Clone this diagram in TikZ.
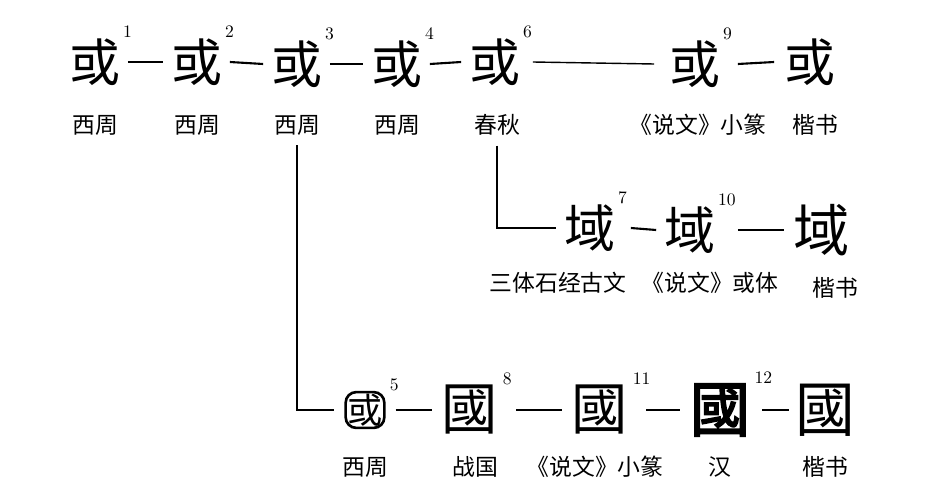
\documentclass[tikz,border=0pt]{standalone}
\usepackage{fontspec}
\usetikzlibrary{calc}
\newfontfamily\cjk{Noto Sans CJK SC}
\newfontfamily\cjkb{Noto Sans CJK SC}[FakeBold=3]
\begin{document}
\begin{tikzpicture}[x=0.02cm,y=-0.02cm,
  g/.style={font=\cjk\fontsize{29}{29}\selectfont,inner sep=0pt},
  lab/.style={font=\cjk\fontsize{13}{13}\selectfont,inner sep=1pt},
  sup/.style={font=\fontsize{10}{10}\selectfont,inner sep=0pt,anchor=south west},
  ln/.style={line width=1.2pt},
  con/.style={line width=0.8pt}]
\useasboundingbox (0,0) rectangle (941,500);
% row 1
\node[g] (a1) at (95,62) {或};
\node[g] (a2) at (197,62) {或};
\node[g] (a3) at (297,64) {或};
\node[g] (a4) at (397,64) {或};
\node[g] (a6) at (495,62) {或};
\node[g] (a9) at (695,64) {或};
\node[g] (k1) at (810,62) {或};
\foreach \n in {1,2,3,4,6,9}
  \node[sup] (s\n) at ($(a\n.north east)+(2,0)$) {\n};
\foreach \n/\x/\t in {1/95/西周,2/197/西周,3/297/西周,4/397/西周,6/497/春秋,9/698/《说文》小篆,k/815/楷书}
  \node[lab] (l\n) at (\x,125) {\t};
\draw[ln] ($(a1.east)+(7,0)$) -- ($(a2.west)+(-8,0)$);
\draw[ln] ($(a2.east)+(7,0)$) -- ($(a3.west)+(-8,0)$);
\draw[ln] ($(a3.east)+(7,0)$) -- ($(a4.west)+(-8,0)$);
\draw[ln] ($(a4.east)+(7,0)$) -- ($(a6.west)+(-8,0)$);
\draw[con] ($(a6.east)+(12,0)$) -- ($(a9.west)+(-15,0)$);
\draw[ln] ($(a9.east)+(17,0)$) -- ($(k1.west)+(-10,0)$);
% row 2
\node[g] (b7) at (590,228) {域};
\node[g] (b10) at (690,230) {域};
\node[g,font=\cjk\fontsize{32}{32}\selectfont] (k2) at (822,230) {域};
\node[sup] (s7) at ($(b7.north east)+(2,0)$) {7};
\node[sup] (s10) at ($(b10.north east)+(2,0)$) {10};
\node[lab] (m7) at (558,283) {三体石经古文};
\node[lab] (m10) at (710,283) {《说文》或体};
\node[lab] (mk) at (835,288) {楷书};
\draw[ln] ($(b7.east)+(15,0)$) -- ($(b10.west)+(-8,0)$);
\draw[ln] ($(b10.east)+(22,0)$) -- ($(k2.west)+(-10,0)$);
\coordinate (c1) at ($(l6.south)+(0,8)$);
\draw[con] (c1) -- (c1 |- b7) -- ($(b7.west)+(-8,0)$);
% row 3
\node[g,draw,rounded corners=6pt,line width=1.5pt,inner sep=1pt,font=\cjk\fontsize{20}{20}\selectfont] (c5) at (365,410) {或};
\node[g,font=\cjk\fontsize{32}{32}\selectfont] (c8) at (470,410) {國};
\node[g,font=\cjk\fontsize{32}{32}\selectfont] (c11) at (600,410) {國};
\node[g,font=\cjkb\fontsize{34}{34}\selectfont] (c12) at (720,410) {國};
\node[g,font=\cjk\fontsize{34}{34}\selectfont] (k3) at (825,410) {國};
\foreach \n in {5,8,11,12}
  \node[sup] (t\n) at ($(c\n.north east)+(4,0)$) {\n};
\foreach \n/\x/\t in {5/365/西周,8/475/战国,11/595/《说文》小篆,12/720/汉,k/825/楷书}
  \node[lab] (n\n) at (\x,467) {\t};
\draw[ln] ($(c5.east)+(10,0)$) -- ($(c8.west)+(-10,0)$);
\draw[ln] ($(c8.east)+(18,0)$) -- ($(c11.west)+(-10,0)$);
\draw[ln] ($(c11.east)+(18,0)$) -- ($(c12.west)+(-10,0)$);
\draw[ln] ($(c12.east)+(12,0)$) -- ($(k3.west)+(-6,0)$);
\coordinate (c2) at ($(l3.south)+(0,8)$);
\draw[con] (c2) -- (c2 |- c5) -- ($(c5.west)+(-10,0)$);
\end{tikzpicture}
\end{document}
